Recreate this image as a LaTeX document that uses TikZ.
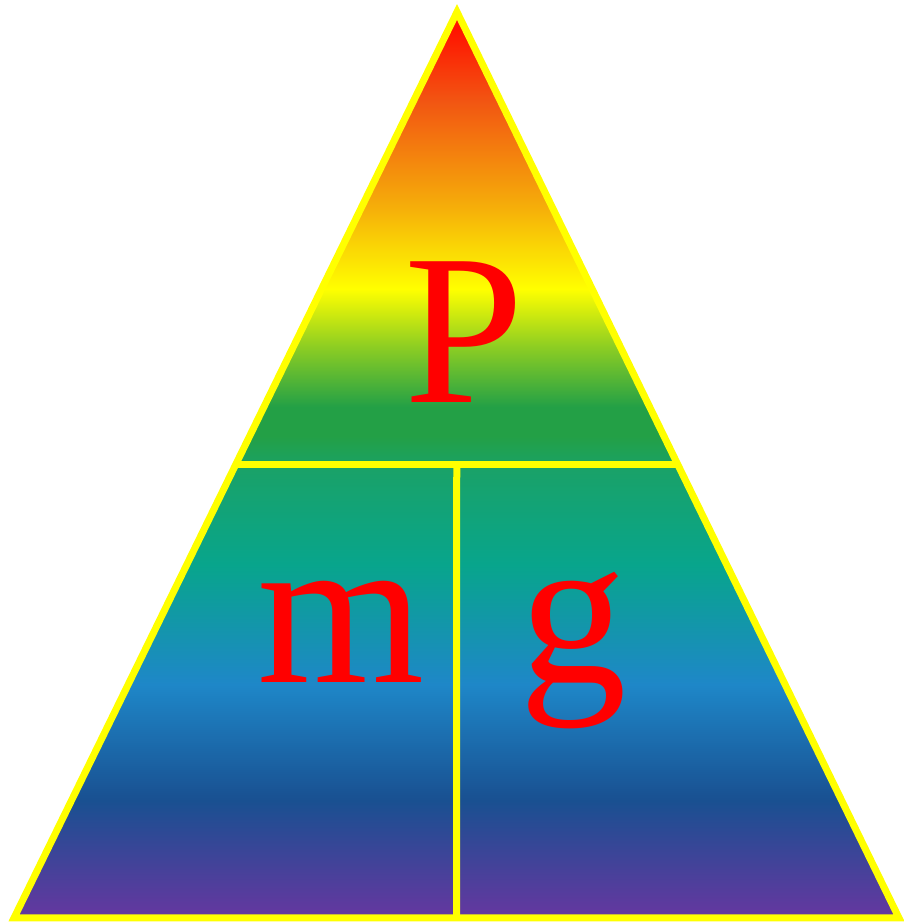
\documentclass[tikz,border=0pt]{standalone}
\usepackage{fontspec}
\setmainfont{Liberation Serif}
\usepackage{tikz}
\usetikzlibrary{calc}
\definecolor{topred}{RGB}{255, 20, 0}
\definecolor{deeporange}{RGB}{242, 85, 18}
\definecolor{amber}{RGB}{245, 168, 10}
\definecolor{brightyellow}{RGB}{255, 255, 0}
\definecolor{limegreen}{RGB}{140, 205, 35}
\definecolor{leafgreen}{RGB}{35, 160, 70}
\definecolor{seagreen}{RGB}{25, 162, 105}
\definecolor{tealgreen}{RGB}{8, 165, 140}
\definecolor{skyblue}{RGB}{30, 135, 200}
\definecolor{navyblue}{RGB}{25, 80, 145}
\definecolor{violet}{RGB}{102, 55, 160}
\definecolor{edgeyellow}{RGB}{255, 255, 0}
\definecolor{letterred}{RGB}{255, 0, 0}
\pgfdeclareverticalshading{rainbow}{100bp}{
  color(0bp)=(violet); color(25bp)=(violet);
  color(31.5bp)=(navyblue); color(37.9bp)=(skyblue);
  color(44.5bp)=(tealgreen); color(49.7bp)=(seagreen);
  color(51.6bp)=(leafgreen); color(53.2bp)=(leafgreen);
  color(56.5bp)=(limegreen); color(59.7bp)=(brightyellow);
  color(64.6bp)=(amber); color(70.1bp)=(deeporange);
  color(74bp)=(topred); color(100bp)=(topred)}

\begin{document}
\begin{tikzpicture}[x=1pt, y=1pt,
    edge/.style={draw=edgeyellow, line width=7pt},
    letter/.style={text=letterred, inner sep=0pt, anchor=base,
                   font=\fontsize{215}{215}\selectfont}
]
    \useasboundingbox (0,0) rectangle (904,923);

    % Triangle
    \coordinate (apex) at (457,911);
    \coordinate (left) at (14,5);
    \coordinate (right) at (899,5);
    \path[edge, shading=rainbow] (left) -- (apex) -- (right) -- cycle;

    % Dividers
    \coordinate (midleft) at ($(left)!0.5!(apex)$);
    \coordinate (midright) at ($(right)!0.5!(apex)$);
    \coordinate (midtop) at ($(midleft)!0.5!(midright)$);
    \coordinate (midbottom) at ($(left)!0.5!(right)$);
    \draw[edge] (midleft) -- (midright);
    \draw[edge] (midtop) -- (midbottom);

    % Letters
    \node[letter] (power) at (464,520) {P};
    \node[letter] (mass) at (341,240) {m};
    \node[letter] (gravity) at (573,240) {g};
\end{tikzpicture}
\end{document}
